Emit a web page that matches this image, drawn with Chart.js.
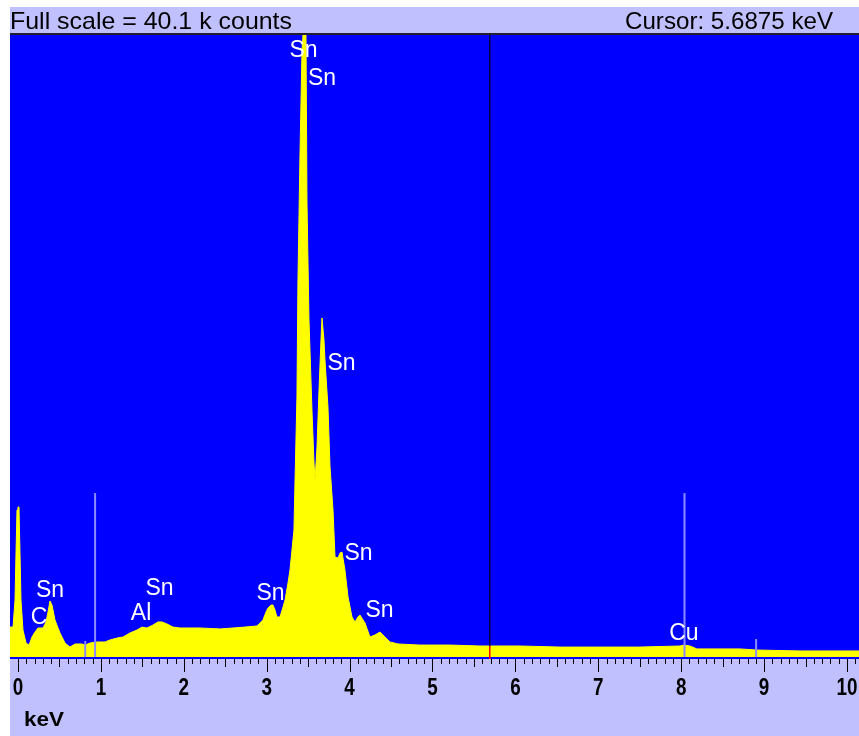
<!DOCTYPE html>
<html>
<head>
<meta charset="utf-8">
<script src="https://cdn.jsdelivr.net/npm/chart.js@4/dist/chart.umd.min.js"></script>
<style>
  html, body { margin: 0; padding: 0; background: #ffffff; }
  #chart { display: block; }
</style>
</head>
<body>
<canvas id="chart" width="859" height="736"></canvas>
<script>
// spectrum (keV, k counts)
const energies = [
  -0.10, -0.06, -0.036, -0.024, -0.012, 0.0, 0.012, 0.024, 0.036, 0.06,
  0.097, 0.133, 0.169, 0.205, 0.241, 0.302, 0.338, 0.362, 0.386, 0.41,
  0.446, 0.483, 0.507, 0.567, 0.627, 0.688, 0.772, 0.808, 0.869, 0.953,
  1.049, 1.11, 1.194, 1.267, 1.351, 1.435, 1.496, 1.556, 1.628, 1.689,
  1.737, 1.797, 1.87, 1.954, 2.195, 2.437, 2.593, 2.738, 2.883, 2.955,
  2.992, 3.016, 3.052, 3.076, 3.10, 3.124, 3.16, 3.197, 3.221, 3.257,
  3.281, 3.305, 3.329, 3.341, 3.365, 3.377, 3.401, 3.426, 3.438, 3.474,
  3.486, 3.51, 3.546, 3.571, 3.583, 3.607, 3.631, 3.655, 3.667, 3.691,
  3.703, 3.739, 3.764, 3.80, 3.824, 3.86, 3.884, 3.908, 3.944, 3.981,
  4.029, 4.065, 4.101, 4.125, 4.162, 4.186, 4.246, 4.306, 4.367, 4.427,
  4.487, 4.584, 4.849, 5.211, 5.573, 6.056, 6.538, 7.02, 7.503, 7.986,
  8.034, 8.106, 8.19, 8.709, 8.914, 9.433, 10.15
];
const counts = [
  1.93, 1.93, 3.67, 6.70, 9.48, 9.67, 9.67, 6.70, 3.67, 1.74,
  0.90, 0.77, 1.29, 1.61, 1.87, 1.87, 2.26, 2.90, 3.61, 3.35,
  2.39, 1.87, 1.55, 0.90, 0.64, 0.84, 0.84, 0.77, 0.90, 0.97,
  0.97, 1.10, 1.22, 1.29, 1.55, 1.74, 1.93, 1.87, 2.06, 2.26,
  2.26, 2.13, 1.93, 1.87, 1.87, 1.81, 1.87, 1.93, 2.00, 2.39,
  2.90, 3.16, 3.35, 3.35, 3.03, 2.58, 2.58, 3.22, 3.67, 4.77,
  5.61, 6.90, 8.19, 11.22, 16.76, 24.18, 32.24, 39.13, 40.1, 40.1,
  29.33, 21.73, 15.92, 12.51, 11.41, 13.54, 17.21, 20.44, 21.86, 20.44,
  19.15, 16.12, 12.25, 9.48, 6.45, 6.38, 6.70, 6.77, 5.61, 3.87,
  2.58, 2.26, 2.58, 2.71, 2.39, 2.19, 1.29, 1.42, 1.61, 1.29,
  0.97, 0.84, 0.77, 0.77, 0.71, 0.71, 0.64, 0.64, 0.64, 0.71,
  0.77, 0.71, 0.52, 0.52, 0.45, 0.39, 0.39
];

// element labels (text, keV, k counts at text baseline)
const lineNames    = ["Sn", "Sn", "Sn", "Sn", "Sn", "Sn", "Sn", "Al", "Sn", "C", "Cu"];
const lineEnergies = [3.444, 3.667, 3.902, 4.107, 4.361, 3.046, 1.707, 1.484, 0.386, 0.253, 8.032];
const lineLevels   = [38.68, 36.88, 18.50, 6.25, 2.58, 3.67, 4.00, 2.39, 3.87, 2.13, 1.10];

// Cu marker lines (keV, k counts)
const markerEnergies = [0.811, 0.93, 8.04, 8.904];
const markerHeights  = [1.03, 10.57, 10.57, 1.16];

const tickValues = [0, 1, 2, 3, 4, 5, 6, 7, 8, 9, 10];
const tickLabels = ["0", "1", "2", "3", "4", "5", "6", "7", "8", "9", "10"];

const fullScale = 40.1;
const cursorKeV = 5.6875;

function spectrumAt(e) {
  for (let i = 1; i < energies.length; i++) {
    if (energies[i] >= e) {
      const t = (e - energies[i - 1]) / (energies[i] - energies[i - 1]);
      return counts[i - 1] + t * (counts[i] - counts[i - 1]);
    }
  }
  return counts[counts.length - 1];
}

function fitText(ctx, text, x, y, width, align) {
  const w = ctx.measureText(text).width;
  const s = width / w;
  ctx.save();
  ctx.textAlign = "left";
  const left = align === "right" ? x - width : x;
  ctx.translate(left, y);
  ctx.scale(s, 1);
  ctx.fillText(text, 0, 0);
  ctx.restore();
}

const framePlugin = {
  id: "frame",
  beforeDraw(chart) {
    const ctx = chart.ctx;
    const a = chart.chartArea;
    ctx.save();
    ctx.fillStyle = "#ffffff";
    ctx.fillRect(0, 0, chart.width, chart.height);
    ctx.fillStyle = "#c0c0ff";
    ctx.fillRect(10, 7, chart.width - 10, chart.height - 7);
    ctx.fillStyle = "#202030";
    ctx.fillRect(10, 33, chart.width - 10, 2);
    ctx.fillStyle = "#0000ff";
    ctx.fillRect(a.left, a.top, a.right - a.left, a.bottom - a.top + 2);
    ctx.restore();
  },
  afterDatasetsDraw(chart) {
    const ctx = chart.ctx;
    const a = chart.chartArea;
    const xs = chart.scales.x;
    const ys = chart.scales.y;

    // cursor
    const cx = Math.round(xs.getPixelForValue(cursorKeV));
    const cy = ys.getPixelForValue(spectrumAt(cursorKeV));
    ctx.save();
    ctx.fillStyle = "#000040";
    ctx.fillRect(cx, a.top, 1.5, cy - a.top);
    ctx.fillStyle = "#ff0000";
    ctx.fillRect(cx, cy, 1.5, a.bottom + 2 - cy);

    // element labels
    ctx.fillStyle = "#ffffff";
    ctx.font = '23px "Liberation Sans", Arial, sans-serif';
    ctx.textAlign = "center";
    ctx.textBaseline = "alphabetic";
    lineNames.forEach((name, i) => {
      ctx.fillText(name, xs.getPixelForValue(lineEnergies[i]), ys.getPixelForValue(lineLevels[i]));
    });
    ctx.restore();
  },
  afterDraw(chart) {
    const ctx = chart.ctx;
    const a = chart.chartArea;
    const xs = chart.scales.x;
    ctx.save();
    ctx.fillStyle = "#000000";
    ctx.textBaseline = "alphabetic";

    // header
    ctx.font = '24px "Liberation Sans", Arial, sans-serif';
    fitText(ctx, "Full scale = " + fullScale + " k counts", 10, 29, 282, "left");
    fitText(ctx, "Cursor: " + cursorKeV + " keV", 833, 29, 208, "right");

    // ticks
    const top = a.bottom + 2;
    ctx.strokeStyle = "#000000";
    ctx.lineWidth = 1;
    for (let k = 0; k <= 101; k++) {
      const v = k / 10;
      const px = Math.round(xs.getPixelForValue(v)) + 0.5;
      if (px > a.right) break;
      const len = k % 10 === 0 ? 13 : (k % 5 === 0 ? 8 : 5);
      ctx.beginPath();
      ctx.moveTo(px, top);
      ctx.lineTo(px, top + len);
      ctx.stroke();
    }
    ctx.font = 'bold 23px "Liberation Sans", Arial, sans-serif';
    tickValues.forEach((v, i) => {
      const w = ctx.measureText(tickLabels[i]).width * 0.82;
      fitText(ctx, tickLabels[i], xs.getPixelForValue(v) - w / 2, 695, w, "left");
    });
    ctx.font = 'bold 21px "Liberation Sans", Arial, sans-serif';
    fitText(ctx, "keV", 24, 726, 40, "left");
    ctx.restore();
  }
};

new Chart(document.getElementById("chart").getContext("2d"), {
  type: "line",
  data: {
    datasets: [
      {
        data: energies.map((e, i) => ({ x: e, y: counts[i] })),
        borderColor: "#ffff00",
        backgroundColor: "#ffff00",
        borderWidth: 1,
        fill: "origin",
        pointRadius: 0,
        tension: 0,
        order: 2,
      },
      ...markerEnergies.map((e, i) => ({
        data: [{ x: e, y: 0 }, { x: e, y: markerHeights[i] }],
        borderColor: "#8c8cff",
        borderWidth: 2,
        pointRadius: 0,
        fill: false,
        order: 1,
      })),
    ],
  },
  options: {
    responsive: false,
    animation: false,
    layout: { padding: { left: 10, right: 0, top: 35, bottom: 79 } },
    plugins: { legend: { display: false }, tooltip: { enabled: false } },
    scales: {
      x: { type: "linear", min: -0.0965, max: 10.145, display: false },
      y: { min: 0, max: fullScale, display: false },
    },
  },
  plugins: [framePlugin],
});
</script>
</body>
</html>
